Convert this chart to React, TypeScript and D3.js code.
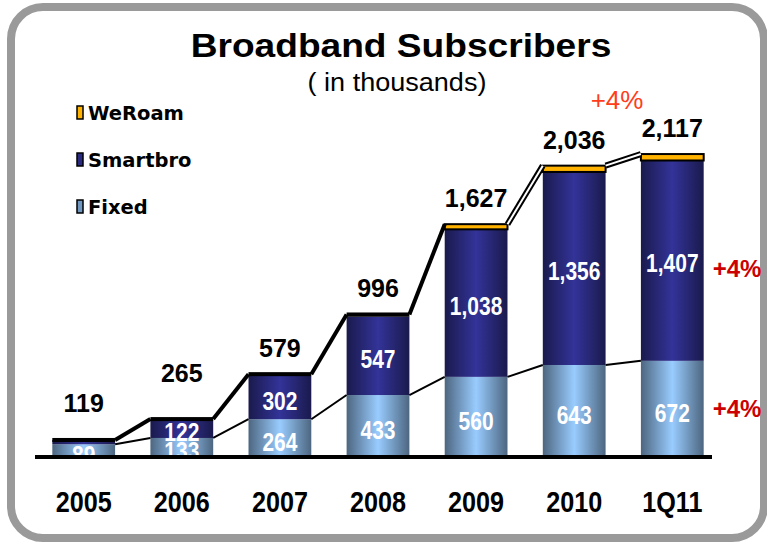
import React from "react";
import * as d3 from "d3";

const categories = ["2005", "2006", "2007", "2008", "2009", "2010", "1Q11"];
const fixedValues = [89, 133, 264, 433, 560, 643, 672];
const smartbroValues = [30, 122, 302, 547, 1038, 1356, 1407];
const weroamValues = [0, 10, 13, 16, 29, 37, 38];
const totalLabels = ["119", "265", "579", "996", "1,627", "2,036", "2,117"];
const fixedLabels = ["89", "133", "264", "433", "560", "643", "672"];
const smartbroLabels = ["", "122", "302", "547", "1,038", "1,356", "1,407"];
const legendItems = ["WeRoam", "Smartbro", "Fixed"];

const W = 767;
const H = 545;
const BASE = 457;
const sans = "'Liberation Sans', Arial, sans-serif";

function SText(props: {
  x: number; y: number; sx?: number; size: number; bold?: boolean; fill?: string;
  anchor?: string; family?: string; children: React.ReactNode;
}) {
  const { x, y, sx = 1, size, bold, fill = "#000", anchor = "middle", family = sans, children } = props;
  return (
    <text transform={`translate(${x},${y}) scale(${sx},1)`} textAnchor={anchor as any}
      fontFamily={family} fontWeight={bold ? "bold" : "normal"} fontSize={size} fill={fill}>
      {children}
    </text>
  );
}

export default function App() {
  const x = d3.scaleBand<string>().domain(categories).range([17, 739]).padding(0.36);
  const y = d3.scaleLinear().domain([0, 2200]).range([BASE, BASE - 2200 * 0.1431]);
  const bw = x.bandwidth();

  const rows = categories.map((c, i) => {
    const f = fixedValues[i];
    const s = smartbroValues[i];
    const w = weroamValues[i];
    return { c, i, f, s, w, x0: x(c) as number, fTop: y(f), sTop: y(f + s), tTop: y(f + s + w) };
  });

  return (
    <svg width={W} height={H} style={{ position: "absolute", left: 0, top: 0, background: "#fff" }}>
      <defs>
        <linearGradient id="gFixed" x1="0" x2="1" y1="0" y2="0">
          <stop offset="0" stopColor="#4d6680" />
          <stop offset="0.5" stopColor="#99ccff" />
          <stop offset="1" stopColor="#4d6680" />
        </linearGradient>
        <linearGradient id="gSmart" x1="0" x2="1" y1="0" y2="0">
          <stop offset="0" stopColor="#1a1a4d" />
          <stop offset="0.5" stopColor="#333399" />
          <stop offset="1" stopColor="#1a1a4d" />
        </linearGradient>
        <clipPath id="plotClip">
          <rect x={0} y={0} width={W} height={BASE} />
        </clipPath>
      </defs>

      <rect x={11} y={7} width={753} height={531} rx={32} ry={32} fill="#fff" stroke="#9a9a9a" strokeWidth={8} />

      <SText x={401} y={57} sx={1.125} size={33} bold>Broadband Subscribers</SText>
      <SText x={397} y={91} sx={1.04} size={26}>( in thousands)</SText>

      {legendItems.map((l, i) => (
        <g key={l}>
          <rect x={77} y={106 + i * 47} width={6} height={13}
            fill={i === 0 ? "#ffb300" : i === 1 ? "#2a2a80" : "#6f97c0"} stroke="#000" strokeWidth={1.5} />
          <text x={88} y={120 + i * 47} fontFamily="'DejaVu Sans', Verdana, sans-serif" fontWeight="bold" fontSize={19.5}>{l}</text>
        </g>
      ))}

      {/* bars */}
      {rows.map(r => (
        <g key={r.c}>
          <rect x={r.x0} y={r.fTop} width={bw} height={BASE - r.fTop} fill="url(#gFixed)" />
          <rect x={r.x0} y={r.sTop} width={bw} height={r.fTop - r.sTop} fill="url(#gSmart)" />
          {r.i >= 4 ? (
            <rect x={r.x0} y={r.tTop} width={bw} height={r.sTop - r.tTop + 1} fill="#ffb300" stroke="#000" strokeWidth={2} />
          ) : (
            <rect x={r.x0} y={r.tTop - 2} width={bw} height={Math.max(4, r.sTop - r.tTop + 2)} fill="#000" />
          )}
        </g>
      ))}

      {/* connectors */}
      {rows.slice(0, -1).map(r => {
        const n = rows[r.i + 1];
        const double = r.i >= 4;
        return (
          <g key={"c" + r.c}>
            <line x1={r.x0 + bw} y1={r.fTop} x2={n.x0} y2={n.fTop} stroke="#000" strokeWidth={2} />
            <line x1={r.x0 + bw} y1={r.tTop} x2={n.x0} y2={n.tTop} stroke="#000" strokeWidth={double ? 6 : 4} />
            {double && <line x1={r.x0 + bw} y1={r.tTop} x2={n.x0} y2={n.tTop} stroke="#fff" strokeWidth={2} />}
          </g>
        );
      })}

      {/* in-bar labels */}
      <g clipPath="url(#plotClip)">
        {rows.map(r => (
          <g key={"l" + r.c}>
            <SText x={r.x0 + bw / 2} y={(BASE + r.fTop) / 2 + 13} sx={0.84} size={25} bold fill="#fff">{fixedLabels[r.i]}</SText>
            {smartbroLabels[r.i] && (
              <SText x={r.x0 + bw / 2} y={(r.fTop + r.sTop) / 2 + 12} sx={0.84} size={25} bold fill="#fff">{smartbroLabels[r.i]}</SText>
            )}
          </g>
        ))}
      </g>

      {/* totals */}
      {rows.map(r => (
        <SText key={"t" + r.c} x={r.x0 + bw / 2} y={Math.min(r.tTop - 17, 412 - (r.i === 1 ? 30 : 0))} size={25} bold>{totalLabels[r.i]}</SText>
      ))}

      <line x1={35} x2={712} y1={BASE} y2={BASE} stroke="#000" strokeWidth={4} />

      {rows.map(r => (
        <SText key={"x" + r.c} x={r.x0 + bw / 2} y={512} sx={0.84} size={30} bold>{r.c}</SText>
      ))}

      <SText x={617} y={109} size={26} fill="#ff3d1a">+4%</SText>
      <SText x={737} y={277} size={24} bold fill="#cc0000">+4%</SText>
      <SText x={737} y={417} size={24} bold fill="#cc0000">+4%</SText>
    </svg>
  );
}
